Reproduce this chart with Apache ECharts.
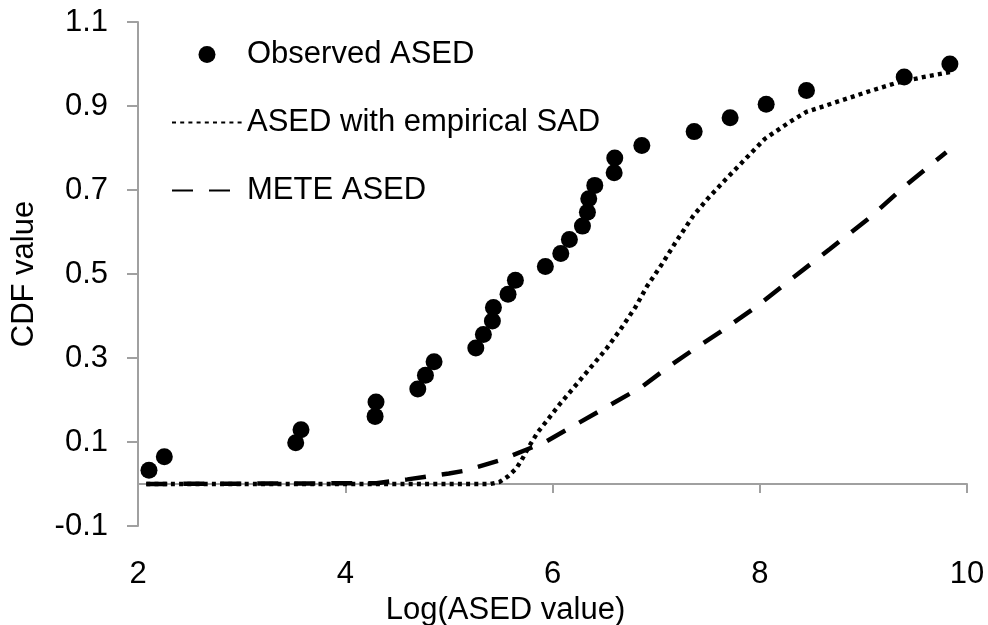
<!DOCTYPE html>
<html>
<head>
<meta charset="utf-8">
<script src="https://cdn.jsdelivr.net/npm/echarts@6/dist/echarts.min.js"></script>
<style>
  html, body { margin: 0; padding: 0; background: #ffffff; }
  #chart { width: 988px; height: 625px; }
</style>
</head>
<body>
<div id="chart"></div>
<script>
// Observed abundance-size distribution (log scale) and its CDF
const observedX = [2.106, 2.254, 3.522, 3.573, 4.288, 4.297, 4.700, 4.774, 4.857, 5.260,
                   5.333, 5.420, 5.430, 5.571, 5.642, 5.931, 6.080, 6.163, 6.289, 6.337,
                   6.350, 6.408, 6.595, 6.601, 6.862, 7.367, 7.714, 8.062, 8.451, 9.394, 9.835];
const observedY = [0.033, 0.065, 0.098, 0.129, 0.161, 0.195, 0.226, 0.259, 0.291, 0.324,
                   0.356, 0.388, 0.420, 0.452, 0.485, 0.518, 0.549, 0.582, 0.614, 0.647,
                   0.679, 0.711, 0.741, 0.776, 0.806, 0.839, 0.872, 0.904, 0.937, 0.969, 1.000];

// Predicted ASED using the empirical SAD
const empiricalX = [2.08, 5.40, 5.49, 5.57, 5.65, 5.70, 5.78, 5.86, 5.95, 6.07,
                    6.20, 6.35, 6.52, 6.65, 6.80, 6.91, 7.06, 7.20, 7.36, 7.50,
                    7.67, 7.85, 8.05, 8.29, 8.45, 8.71, 9.03, 9.32, 9.60, 9.84];
const empiricalY = [0.000, 0.000, 0.005, 0.018, 0.037, 0.056, 0.092, 0.124, 0.152, 0.190,
                    0.228, 0.272, 0.322, 0.366, 0.421, 0.470, 0.525, 0.580, 0.639, 0.680,
                    0.725, 0.771, 0.822, 0.862, 0.886, 0.907, 0.933, 0.955, 0.970, 0.981];

// METE predicted ASED
const meteX = [2.08, 4.30, 4.60, 5.00, 5.16, 5.50, 5.77, 5.93, 6.20, 6.52,
               6.86, 7.12, 7.36, 7.62, 7.96, 8.31, 8.68, 9.07, 9.39, 9.80];
const meteY = [0.000, 0.002, 0.011, 0.025, 0.032, 0.057, 0.084, 0.100, 0.138, 0.183,
               0.231, 0.279, 0.320, 0.362, 0.421, 0.489, 0.560, 0.636, 0.707, 0.790];

const seriesNames = ['Observed ASED', 'ASED with empirical SAD', 'METE ASED'];
const xTicks = [2, 4, 6, 8, 10];
const yTicks = [-0.1, 0.1, 0.3, 0.5, 0.7, 0.9, 1.1];

const pairs = (xs, ys) => xs.map((x, i) => [x, ys[i]]);

const FONT = "'Liberation Sans', Arial, sans-serif";
const AXIS_GREY = '#a0a0a0';

const chart = echarts.init(document.getElementById('chart'), null, { renderer: 'canvas' });

chart.setOption({
  backgroundColor: '#ffffff',
  animation: false,
  textStyle: { fontFamily: FONT, color: '#000' },
  grid: { left: 138, right: 21, top: 22, bottom: 99, containLabel: false, outerBoundsMode: 'none' },
  legend: {
    orient: 'vertical',
    left: 166,
    top: 34,
    itemWidth: 70,
    itemHeight: 17,
    itemGap: 37,
    textStyle: { fontFamily: FONT, fontSize: 31, color: '#000' },
    data: [
      { name: seriesNames[0] },
      { name: seriesNames[1], itemStyle: { opacity: 0 } },
      { name: seriesNames[2], itemStyle: { opacity: 0 } }
    ]
  },
  xAxis: {
    type: 'value',
    min: xTicks[0],
    max: xTicks[xTicks.length - 1],
    interval: xTicks[1] - xTicks[0],
    name: 'Log(ASED value)',
    nameLocation: 'middle',
    nameGap: 60,
    nameTextStyle: { fontFamily: FONT, fontSize: 31, color: '#000', padding: [0, 94, 0, 0] },
    axisLine: { show: true, lineStyle: { color: AXIS_GREY, width: 2 } },
    axisTick: { show: true, inside: false, length: 9, lineStyle: { color: AXIS_GREY, width: 2 } },
    axisLabel: { margin: 33, fontFamily: FONT, fontSize: 31, color: '#000' },
    splitLine: { show: false }
  },
  yAxis: {
    type: 'value',
    min: yTicks[0],
    max: yTicks[yTicks.length - 1],
    interval: yTicks[1] - yTicks[0],
    name: 'CDF value',
    nameLocation: 'middle',
    nameGap: 98,
    nameTextStyle: { fontFamily: FONT, fontSize: 31, color: '#000' },
    axisLine: { show: true, lineStyle: { color: AXIS_GREY, width: 2 } },
    axisTick: { show: true, inside: false, length: 11, lineStyle: { color: AXIS_GREY, width: 2 } },
    axisLabel: {
      margin: 30, fontFamily: FONT, fontSize: 31, color: '#000',
      formatter: v => Number(v).toFixed(1)
    },
    splitLine: { show: false }
  },
  series: [
    {
      name: seriesNames[0],
      type: 'scatter',
      data: pairs(observedX, observedY),
      symbol: 'circle',
      symbolSize: 17,
      itemStyle: { color: '#000', opacity: 1 },
      z: 2
    },
    {
      name: seriesNames[1],
      type: 'line',
      data: pairs(empiricalX, empiricalY),
      showSymbol: false,
      symbol: 'none',
      smooth: false,
      itemStyle: { color: '#000' },
      lineStyle: { color: '#000', width: 4.4, type: [4, 4.2], cap: 'butt' },
      z: 3
    },
    {
      name: seriesNames[2],
      type: 'line',
      data: pairs(meteX, meteY),
      showSymbol: false,
      symbol: 'none',
      smooth: false,
      itemStyle: { color: '#000' },
      lineStyle: { color: '#000', width: 4.5, type: [21, 16], cap: 'butt' },
      z: 3
    }
  ]
});
</script>
</body>
</html>
